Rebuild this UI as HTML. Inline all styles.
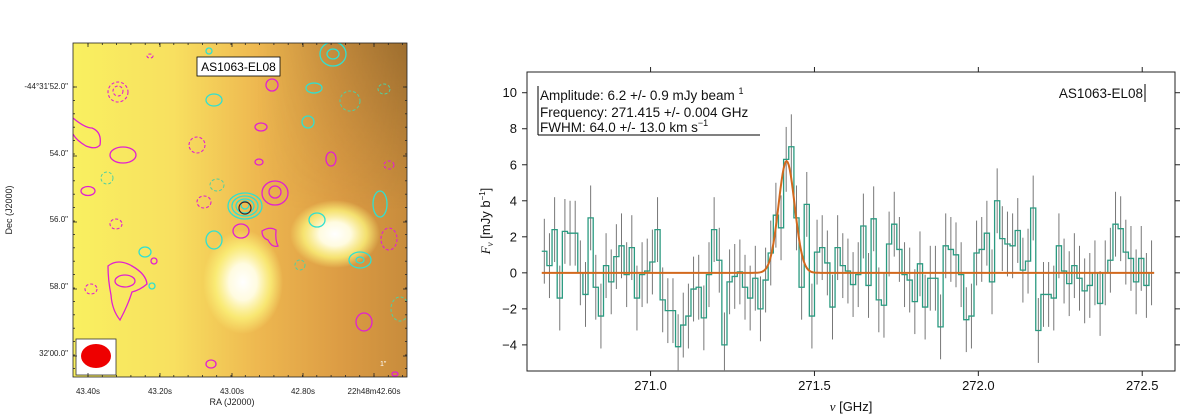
<!DOCTYPE html>
<html><head><meta charset="utf-8"><style>
html,body{margin:0;padding:0;background:#fff;width:1200px;height:418px;overflow:hidden}
svg text{font-family:"Liberation Sans",sans-serif}
</style></head><body>
<svg id="fig" width="1200" height="418" viewBox="0 0 1200 418" xmlns="http://www.w3.org/2000/svg">
<defs>
<linearGradient id="bg" x1="0" y1="0" x2="1" y2="0">
<stop offset="0" stop-color="#f9f060"/><stop offset="0.3" stop-color="#f8e060"/>
<stop offset="0.55" stop-color="#eeb850"/><stop offset="0.8" stop-color="#dc9c44"/><stop offset="1" stop-color="#c88c3c"/>
</linearGradient>
<linearGradient id="dark" x1="0" y1="0" x2="0" y2="1">
<stop offset="0" stop-color="#6a4a20" stop-opacity="0.45"/><stop offset="0.5" stop-color="#6a4a20" stop-opacity="0"/>
</linearGradient>
<linearGradient id="darkx" x1="0" y1="0" x2="1" y2="0">
<stop offset="0.55" stop-color="#fff" stop-opacity="0"/><stop offset="1" stop-color="#fff" stop-opacity="1"/>
</linearGradient>
<mask id="mk"><rect x="73" y="43" width="334" height="334" fill="url(#darkx)"/></mask>
<radialGradient id="glow"><stop offset="0" stop-color="#fff"/><stop offset="0.35" stop-color="#fffbe0"/><stop offset="0.7" stop-color="#fbf27a" stop-opacity="0.8"/><stop offset="1" stop-color="#fbf27a" stop-opacity="0"/></radialGradient>
<clipPath id="mapclip"><rect x="73" y="43" width="334" height="334"/></clipPath>
<clipPath id="plotclip"><rect x="527" y="72" width="648" height="299"/></clipPath>
</defs>

<g>
<g clip-path="url(#mapclip)">
<rect x="73" y="43" width="334" height="334" fill="url(#bg)"/>
<rect x="73" y="43" width="334" height="334" fill="url(#dark)" mask="url(#mk)"/>
<ellipse cx="243" cy="282" rx="40" ry="52" fill="url(#glow)"/>
<ellipse cx="335" cy="234" rx="45" ry="34" fill="url(#glow)"/>
<g fill="none" stroke="#e020d0" stroke-width="1.3">
<ellipse cx="123" cy="155" rx="13" ry="8"/><ellipse cx="88" cy="191" rx="7" ry="4.5"/>
<path d="M73 118 Q85 128 92 128 Q102 132 100 145 Q96 150 86 146 Q76 140 73 134"/>
<ellipse cx="272" cy="85" rx="6" ry="6"/><ellipse cx="261" cy="127" rx="6" ry="4"/>
<ellipse cx="259" cy="162" rx="4" ry="3"/><ellipse cx="331" cy="159" rx="5" ry="7"/>
<ellipse cx="275" cy="193" rx="13" ry="12"/><ellipse cx="275" cy="192" rx="6" ry="6"/>
<ellipse cx="241" cy="231" rx="8" ry="7"/>
<path d="M262 231 Q270 226 276 230 Q275 240 278 246 Q272 248 268 240 Q262 238 262 231Z"/>
<path d="M108 266 Q118 258 132 266 Q146 274 147 284 Q140 290 132 292 Q128 305 120 320 Q112 310 111 295 Q108 280 108 266Z"/>
<ellipse cx="125" cy="281" rx="10" ry="6"/>
<ellipse cx="154" cy="261" rx="3" ry="3"/><ellipse cx="364" cy="322" rx="8" ry="9"/>
<ellipse cx="211" cy="364" rx="5" ry="4"/><ellipse cx="395" cy="374" rx="3" ry="2"/>
</g>
<g fill="none" stroke="#e020d0" stroke-width="1.1" stroke-dasharray="3,2">
<ellipse cx="118" cy="92" rx="10" ry="10"/><ellipse cx="118" cy="91" rx="5" ry="5"/>
<ellipse cx="197" cy="145" rx="8" ry="8"/><ellipse cx="204" cy="202" rx="7" ry="6"/>
<ellipse cx="116" cy="224" rx="6" ry="5"/><ellipse cx="91" cy="289" rx="6" ry="5"/>
<ellipse cx="389" cy="239" rx="8" ry="11"/><ellipse cx="389" cy="165" rx="5" ry="4"/>
<ellipse cx="150" cy="56" rx="3" ry="2"/>
</g>
<g fill="none" stroke="#30e0d0" stroke-width="1.3">
<ellipse cx="333" cy="54" rx="13" ry="12"/><ellipse cx="333" cy="54" rx="6" ry="5"/>
<ellipse cx="214" cy="100" rx="8" ry="6"/><ellipse cx="314" cy="88" rx="8" ry="5"/>
<ellipse cx="308" cy="122" rx="6" ry="6"/>
<ellipse cx="245" cy="206" rx="17" ry="13"/><ellipse cx="245" cy="206" rx="13" ry="10"/><ellipse cx="245" cy="206" rx="9" ry="7"/><ellipse cx="245" cy="205" rx="4" ry="4"/>
<ellipse cx="317" cy="220" rx="8" ry="7"/><ellipse cx="214" cy="240" rx="8" ry="9"/>
<ellipse cx="380" cy="204" rx="7" ry="13"/><ellipse cx="360" cy="260" rx="11" ry="8"/><ellipse cx="360" cy="260" rx="4" ry="3"/>
<ellipse cx="145" cy="252" rx="6" ry="5"/><ellipse cx="152" cy="286" rx="3" ry="3"/><ellipse cx="209" cy="51" rx="3" ry="3"/>
</g>
<g fill="none" stroke="#50d0a0" stroke-width="1" stroke-dasharray="3,2">
<ellipse cx="107" cy="178" rx="6" ry="6"/><ellipse cx="217" cy="185" rx="7" ry="6"/>
<ellipse cx="350" cy="101" rx="10" ry="10"/><ellipse cx="384" cy="89" rx="6" ry="5"/>
<ellipse cx="400" cy="309" rx="9" ry="12"/><ellipse cx="300" cy="265" rx="5" ry="5"/>
</g>
<ellipse cx="245" cy="208" rx="6" ry="6" fill="none" stroke="#402020" stroke-width="1.2"/>
<rect x="76" y="339" width="40" height="36" fill="#fff" stroke="#333" stroke-width="0.8"/>
<ellipse cx="96" cy="356" rx="15" ry="12" fill="#ee0000"/>
<text x="380" y="366" font-size="7" fill="#fff">1"</text>
</g>
<rect x="73" y="43" width="334" height="334" fill="none" stroke="#222" stroke-width="0.8"/>
<g>
<rect x="197" y="57" width="83" height="19" fill="#fff" stroke="#000" stroke-width="0.8"/>
<text x="238.5" y="71" font-size="12" text-anchor="middle">AS1063-EL08</text>
</g>
<g id="mapticks" stroke="#222" stroke-width="0.8"></g>
<g font-size="8" fill="#222">
<text x="68" y="89" text-anchor="end">-44°31'52.0"</text>
<text x="68" y="156" text-anchor="end">54.0"</text>
<text x="68" y="222" text-anchor="end">56.0"</text>
<text x="68" y="289" text-anchor="end">58.0"</text>
<text x="68" y="356" text-anchor="end">32'00.0"</text>
</g>
<g font-size="8" fill="#222" text-anchor="middle">
<text x="88" y="394">43.40s</text><text x="160" y="394">43.20s</text><text x="232" y="394">43.00s</text>
<text x="303" y="394">42.80s</text><text x="374" y="394">22h48m42.60s</text>
</g>
<text x="232" y="405" font-size="9" text-anchor="middle" fill="#222">RA (J2000)</text>
<text transform="translate(12,210) rotate(-90)" font-size="9" text-anchor="middle" fill="#222">Dec (J2000)</text>
</g>

<g>
<rect x="527" y="72" width="648" height="299" fill="#fff" stroke="#222" stroke-width="1"/>
<g id="axes"></g>
<g id="series" clip-path="url(#plotclip)"></g>
<g font-size="13.5" fill="#111">
<line x1="538" y1="86" x2="538" y2="135" stroke="#000" stroke-width="1"/>
<line x1="538" y1="135" x2="760" y2="135" stroke="#000" stroke-width="1"/>
<text x="540" y="100">Amplitude: 6.2 +/- 0.9 mJy beam <tspan font-size="9" dy="-6"> 1</tspan></text>
<text x="540" y="117" dy="0">Frequency: 271.415 +/- 0.004 GHz</text>
<text x="540" y="132">FWHM: 64.0 +/- 13.0 km s<tspan font-size="9" dy="-6">−1</tspan></text>
</g>
<text x="1143" y="98" font-size="13.5" text-anchor="end" fill="#111">AS1063-EL08</text>
<line x1="1145" y1="84" x2="1145" y2="102" stroke="#000" stroke-width="1"/>
<text x="851" y="411" font-size="13" text-anchor="middle" fill="#111"><tspan font-family="Liberation Serif" font-style="italic">ν</tspan> [GHz]</text>
<text transform="translate(490,221) rotate(-90)" font-size="13" text-anchor="middle" fill="#111"><tspan font-family="Liberation Serif" font-style="italic">F<tspan font-size="9" dy="3">ν</tspan></tspan><tspan dy="-3"> [mJy b</tspan><tspan font-size="8" dy="-5">−1</tspan><tspan dy="5">]</tspan></text>
</g>
</svg>
<script>
const freqStart = 270.668;
const chanWidth = 0.0157;
const fluxValues = [1.2,0.4,2.4,-1.4,2.3,2.2,2.2,0,-1.2,3.05,-0.8,-2.4,0.4,-0.5,0.9,1.5,-0.1,1.4,-1.4,-0.1,0.1,0.6,2.4,-1.5,-2.1,-2.1,-4.1,-2.9,-2.4,-0.9,-0.8,-2.5,-0.1,2.4,0.7,-4.0,-0.5,-0.2,0.05,-0.8,-1.4,-0.3,-2.0,-0.4,1.1,3.2,2.5,6.3,7.0,3.05,-0.8,3.8,-2.4,1.15,1.4,0.55,-1.9,1.4,0.4,0.1,-0.65,-0.1,2.6,-0.7,3.0,-1.5,-1.8,1.6,2.7,1.3,-0.1,-0.4,-1.6,0.5,-1.9,-0.3,-0.3,-3.0,1.5,1.3,1.0,-0.1,-2.6,-2.4,1.1,1.3,2.2,-0.5,4.0,1.9,1.6,1.5,2.35,0.15,0.65,3.6,-3.2,-1.2,-1.2,-1.4,1.5,0.1,-0.6,0.4,-0.3,-1.0,-0.7,0,-1.7,0,0.7,2.7,2.45,1.15,0.8,-0.5,0.8,-0.7,0];
const fluxError = 1.8;
const fitAmplitude = 6.2;
const fitCenter = 271.415;
const fitFWHMkms = 64.0;
const xTicks = [271.0,271.5,272.0,272.5];
const xTickLabels = ["271.0","271.5","272.0","272.5"];
const yTicks = [-4,-2,0,2,4,6,8,10];
const yTickLabels = ["−4","−2","0","2","4","6","8","10"];

const NS="http://www.w3.org/2000/svg";
const X0=527,X1=1175,Y0=72,Y1=371;
const xmin=270.623,xmax=272.60,ymin=-5.45,ymax=11.15;
function xs(v){return X0+(v-xmin)/(xmax-xmin)*(X1-X0);}
function ys(v){return Y1-(v-ymin)/(ymax-ymin)*(Y1-Y0);}
function mk(tag,attrs,parent){const e=document.createElementNS(NS,tag);for(const k in attrs)e.setAttribute(k,attrs[k]);parent.appendChild(e);return e;}

const axes=document.getElementById('axes');
xTicks.forEach((t,i)=>{
  const x=xs(t);
  const tk=mk('line',{x1:x,y1:Y1,x2:x,y2:Y1+5,stroke:'#222'},axes);
  
  
  const tk2=mk('line',{x1:x,y1:Y0,x2:x,y2:Y0-5,stroke:'#222'},axes);
  
  
  const tl=mk('text',{x:x,y:Y1+19,'font-size':13,'text-anchor':'middle',fill:'#111'},axes);
  tl.textContent=xTickLabels[i];
  
  
});
yTicks.forEach((t,i)=>{
  const y=ys(t);
  const tk=mk('line',{x1:X0,y1:y,x2:X0-5,y2:y,stroke:'#222'},axes);
  
  
  const tk2=mk('line',{x1:X1,y1:y,x2:X1+5,y2:y,stroke:'#222'},axes);
  
  
  const tl=mk('text',{x:X0-10,y:y+4.5,'font-size':13,'text-anchor':'end',fill:'#111'},axes);
  tl.textContent=yTickLabels[i];
  
  
});

const ser=document.getElementById('series');
fluxValues.forEach((v,i)=>{
  const xc=xs(freqStart+(i+0.5)*chanWidth);
  const eb=mk('line',{x1:xc,y1:ys(v+fluxError),x2:xc,y2:ys(v-fluxError),stroke:'#777','stroke-width':1},ser);
  
  
});
let d='';
fluxValues.forEach((v,i)=>{
  const xa=xs(freqStart+i*chanWidth), xb=xs(freqStart+(i+1)*chanWidth), y=ys(v);
  d+=(i===0?'M':'L')+xa+' '+y+' L'+xb+' '+y+' ';
});
const st=mk('path',{d:d,fill:'none',stroke:'#2a9a80','stroke-width':1.3},ser);


const sigma=fitFWHMkms/299792.458*fitCenter/2.3548;
let g='';
const fStart=freqStart, fEnd=freqStart+fluxValues.length*chanWidth;
for(let k=0;k<=600;k++){
  const f=fStart+(fEnd-fStart)*k/600;
  const v=fitAmplitude*Math.exp(-0.5*Math.pow((f-fitCenter)/sigma,2));
  g+=(k===0?'M':'L')+xs(f).toFixed(2)+' '+ys(v).toFixed(2)+' ';
}
const gf=mk('path',{d:g,fill:'none',stroke:'#d2691e','stroke-width':2},ser);



const mt=document.getElementById('mapticks');
[87,156,222,289,356].forEach(y=>{mk('line',{x1:73,y1:y,x2:77,y2:y},mt);mk('line',{x1:407,y1:y,x2:403,y2:y},mt);});
[88,160,232,303,374].forEach(x=>{mk('line',{x1:x,y1:377,x2:x,y2:373},mt);mk('line',{x1:x,y1:43,x2:x,y2:47},mt);});
for(let x=88;x<407;x+=14.3){mk('line',{x1:x,y1:377,x2:x,y2:375},mt);mk('line',{x1:x,y1:43,x2:x,y2:45},mt);}
for(let y=87;y<377;y+=13.4){mk('line',{x1:73,y1:y,x2:75,y2:y},mt);mk('line',{x1:407,y1:y,x2:405,y2:y},mt);}
</script>
</body></html>
